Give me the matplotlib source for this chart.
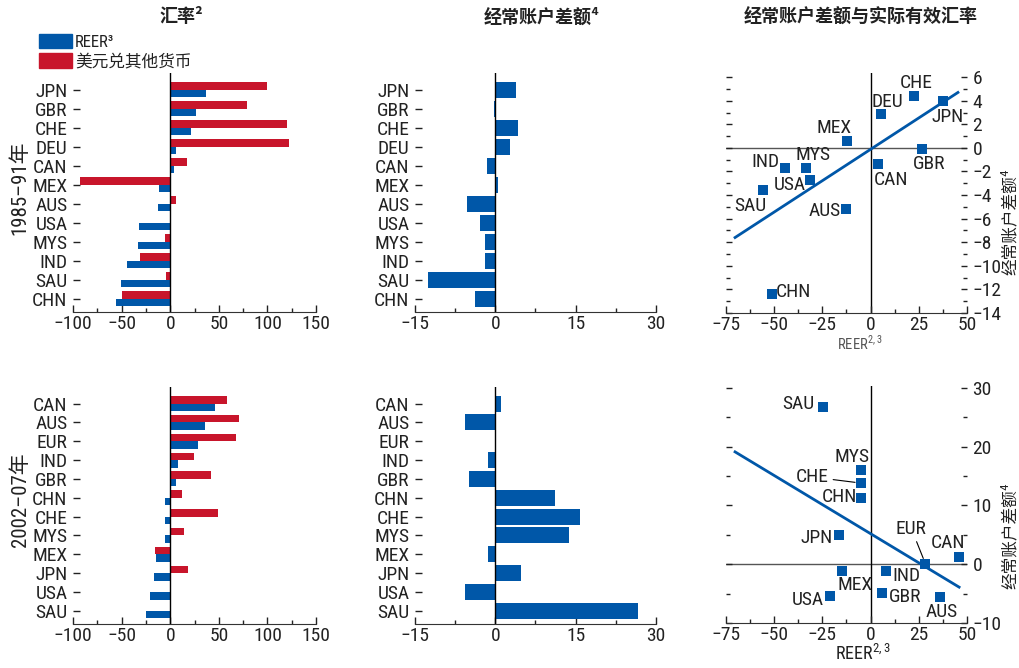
import numpy as np
import matplotlib
matplotlib.use("Agg")
import matplotlib.pyplot as plt
import matplotlib.font_manager as fm
from matplotlib.patches import Patch
from matplotlib.ticker import MultipleLocator

# ---- data: 1985-91 ----
cats_8591 = ["JPN", "GBR", "CHE", "DEU", "CAN", "MEX", "AUS", "USA", "MYS", "IND", "SAU", "CHN"]
reer_8591 = [36.4, 26.1, 21.3, 5.5, 3.4, -11.7, -12.7, -32.3, -33.3, -44.6, -50.8, -56.0]
usd_8591 = [99.6, 79.0, 120.2, 122.3, 17.2, -93.0, 5.5, 0.0, -5.5, -31.3, -4.5, -49.8]
ca_8591 = [3.9, -0.25, 4.2, 2.7, -1.55, 0.45, -5.3, -2.9, -1.9, -1.9, -12.6, -3.8]

sc_names_8591 = ["CHE", "JPN", "DEU", "MEX", "GBR", "CAN", "IND", "MYS", "USA", "SAU", "AUS", "CHN"]
sc_reer_8591 = [22.5, 37.6, 5.6, -12.0, 26.9, 3.6, -44.4, -33.7, -31.5, -56.0, -12.8, -51.2]
sc_ca_8591 = [4.4, 4.0, 2.9, 0.6, -0.1, -1.4, -1.7, -1.7, -2.7, -3.6, -5.2, -12.4]
fit_x_8591 = [-70.3, 45.3]
fit_y_8591 = [-7.6, 4.7]

# ---- data: 2002-07 ----
cats_0207 = ["CAN", "AUS", "EUR", "IND", "GBR", "CHN", "CHE", "MYS", "MEX", "JPN", "USA", "SAU"]
reer_0207 = [45.7, 35.4, 28.2, 7.6, 5.5, -5.5, -5.5, -5.5, -14.8, -16.8, -21.0, -25.0]
usd_0207 = [58.4, 70.4, 67.6, 24.4, 41.9, 12.0, 49.1, 13.7, -15.8, 18.2, 0.0, 0.0]
ca_0207 = [1.05, -5.6, 0.05, -1.4, -4.9, 11.1, 15.9, 13.7, -1.4, 4.8, -5.6, 26.7]

sc_names_0207 = ["SAU", "MYS", "CHE", "CHN", "JPN", "EUR", "CAN", "MEX", "IND", "GBR", "USA", "AUS"]
sc_reer_0207 = [-24.9, -5.2, -5.2, -5.2, -16.3, 28.4, 45.9, -14.9, 8.2, 6.1, -21.1, 36.2]
sc_ca_0207 = [26.7, 16.0, 13.8, 11.3, 4.9, 0.1, 1.2, -1.2, -1.2, -4.9, -5.4, -5.6]
fit_x_0207 = [-70.3, 45.9]
fit_y_0207 = [19.1, -3.9]

BLUE = "#0057a8"
RED = "#c8152b"
DARK = "#222222"

# condensed latin font, CJK fallback
names = {f.name for f in fm.fontManager.ttflist}
LATIN = next((n for n in ["Roboto Condensed", "Archivo Narrow", "Liberation Sans Narrow"]
              if n in names), "Liberation Sans")
CJK = "Noto Sans CJK SC"
plt.rcParams["font.family"] = [LATIN, CJK, "DejaVu Sans"]
plt.rcParams["text.color"] = DARK
plt.rcParams["xtick.color"] = DARK
plt.rcParams["ytick.color"] = DARK

fig = plt.figure(figsize=(10.2, 6.68), dpi=100)
W, H = 1020.0, 668.0
FS = 14


def rect(x0, y0, x1, y1):
    """pixel box -> figure fraction rect"""
    return [x0 / W, 1 - y1 / H, (x1 - x0) / W, (y1 - y0) / H]


def bar_panel(ax, cats, reer, usd, xlim, major, minor):
    y = np.arange(len(cats))
    if usd is not None:
        ax.barh(y - 0.2, usd, 0.4, color=RED, zorder=2)
        ax.barh(y + 0.2, reer, 0.4, color=BLUE, zorder=2)
    else:
        ax.barh(y, reer, 0.85, color=BLUE, zorder=2)
    ax.axvline(0, color="black", lw=1, zorder=3)
    ax.set_yticks(y)
    ax.set_yticklabels(cats)
    ax.set_ylim(len(cats) - 0.3, -0.88)
    ax.set_xlim(*xlim)
    ax.xaxis.set_major_locator(MultipleLocator(major))
    ax.xaxis.set_minor_locator(MultipleLocator(minor))
    for s in ["top", "left", "right"]:
        ax.spines[s].set_visible(False)
    ax.spines["bottom"].set_color("#333333")
    ax.tick_params(axis="y", direction="in", length=5, width=1, pad=4, labelsize=FS)
    ax.tick_params(axis="x", which="major", direction="in", length=5, width=1, pad=2, labelsize=FS)
    ax.tick_params(axis="x", which="minor", direction="in", length=3, width=1)


def scatter_panel(ax, names_, xs, ys, fx, fy, ylim, ymajor, yminor, offsets, leaders=()):
    ax.axhline(0, color="#555555", lw=1, zorder=1)
    ax.axvline(0, color="black", lw=1, zorder=1)
    ax.plot(fx, fy, color=BLUE, lw=2, zorder=2)
    ax.scatter(xs, ys, marker="s", s=55, color=BLUE, linewidths=0, zorder=3)
    for n, x, y in zip(names_, xs, ys):
        dx, dy = offsets[n]
        kw = {}
        if n in leaders:
            kw["arrowprops"] = dict(arrowstyle="-", lw=0.8, color="black", shrinkA=1, shrinkB=4)
        ax.annotate(n, (x, y), xytext=(dx * 0.72, -dy * 0.72), textcoords="offset points",
                    ha="center", va="center", fontsize=FS, **kw)
    ax.set_xlim(-75, 50)
    ax.set_ylim(*ylim)
    ax.xaxis.set_major_locator(MultipleLocator(25))
    ax.xaxis.set_minor_locator(MultipleLocator(12.5))
    ax.yaxis.set_major_locator(MultipleLocator(ymajor))
    ax.yaxis.set_minor_locator(MultipleLocator(yminor))
    for s in ["top", "left", "right"]:
        ax.spines[s].set_visible(False)
    ax.spines["bottom"].set_color("#333333")
    ax.yaxis.set_ticks_position("both")
    ax.tick_params(axis="y", which="both", direction="in", labelleft=False, labelright=True,
                   labelsize=FS, pad=4)
    ax.tick_params(axis="y", which="major", length=4, width=1)
    ax.tick_params(axis="y", which="minor", length=3, width=1)
    ax.tick_params(axis="x", which="major", direction="in", length=5, width=1, pad=2, labelsize=FS)
    ax.tick_params(axis="x", which="minor", direction="in", length=3, width=1)


# top row
ax1 = fig.add_axes(rect(73, 73, 316, 312))
bar_panel(ax1, cats_8591, reer_8591, usd_8591, (-100, 150), 50, 25)
ax2 = fig.add_axes(rect(415, 73, 656, 312))
bar_panel(ax2, cats_8591, ca_8591, None, (-15, 30), 15, 7.5)
ax3 = fig.add_axes(rect(726, 73, 967, 313))
off_8591 = {"CHE": (2, -13), "JPN": (5, 16), "DEU": (6, -12), "MEX": (-13, -13),
            "GBR": (7, 15), "CAN": (13, 16), "IND": (-20, -6), "MYS": (7, -13),
            "USA": (-20, 5), "SAU": (-12, 16), "AUS": (-21, 2), "CHN": (22, -2)}
scatter_panel(ax3, sc_names_8591, sc_reer_8591, sc_ca_8591, fit_x_8591, fit_y_8591,
              (-14, 6.35), 2, 1, off_8591)

# bottom row
ax4 = fig.add_axes(rect(73, 387, 316, 624))
bar_panel(ax4, cats_0207, reer_0207, usd_0207, (-100, 150), 50, 25)
ax5 = fig.add_axes(rect(415, 387, 656, 624))
bar_panel(ax5, cats_0207, ca_0207, None, (-15, 30), 15, 7.5)
ax6 = fig.add_axes(rect(726, 386, 967, 623))
off_0207 = {"SAU": (-24, -3), "MYS": (-9, -13), "CHE": (-48, -6), "CHN": (-21, -1),
            "JPN": (-23, 3), "EUR": (-14, -35), "CAN": (-11, -14), "MEX": (13, 14),
            "IND": (20, 5), "GBR": (23, 4), "USA": (-22, 4), "AUS": (1, 15)}
scatter_panel(ax6, sc_names_0207, sc_reer_0207, sc_ca_0207, fit_x_0207, fit_y_0207,
              (-10, 30.3), 10, 5, off_0207, leaders=("CHE", "EUR"))

# titles
cjk = [CJK, "DejaVu Sans"]
fig.text(181 / W, 1 - 17 / H, "汇率²", ha="center", va="center", fontsize=13,
         fontweight="bold", family=cjk)
fig.text(541 / W, 1 - 17 / H, "经常账户差额⁴", ha="center", va="center", fontsize=13,
         fontweight="bold", family=cjk)
fig.text(861 / W, 1 - 17 / H, "经常账户差额与实际有效汇率", ha="center", va="center",
         fontsize=13, fontweight="bold", family=cjk)

# row labels
fig.text(20 / W, 1 - 188 / H, "1985–91年", rotation=90, ha="center", va="center",
         fontsize=15, family=[LATIN, CJK])
fig.text(20 / W, 1 - 500 / H, "2002–07年", rotation=90, ha="center", va="center",
         fontsize=15, family=[LATIN, CJK])

# right-hand axis labels
for yc in (222, 536):
    fig.text(1010 / W, 1 - yc / H, "经常账户差额⁴", rotation=90, ha="center", va="center",
             fontsize=12, family=cjk)
fig.text(860 / W, 1 - 343 / H, r"REER$^{\mathregular{2,3}}$", ha="center", va="center",
         fontsize=10.5, color="#555555")
fig.text(863 / W, 1 - 654 / H, r"REER$^{\mathregular{2,3}}$", ha="center", va="center",
         fontsize=13)

# legend
handles = [Patch(color=BLUE, label="REER³"), Patch(color=RED, label="美元兑其他货币")]
fig.legend(handles=handles, loc="upper left", bbox_to_anchor=(39 / W, 1 - 34 / H),
           frameon=False, borderpad=0, borderaxespad=0, handlelength=2.0,
           handleheight=0.95, handletextpad=0.15, labelspacing=0.2,
           prop={"family": [LATIN, CJK], "size": 12})

fig.savefig("out.png", dpi=100)
